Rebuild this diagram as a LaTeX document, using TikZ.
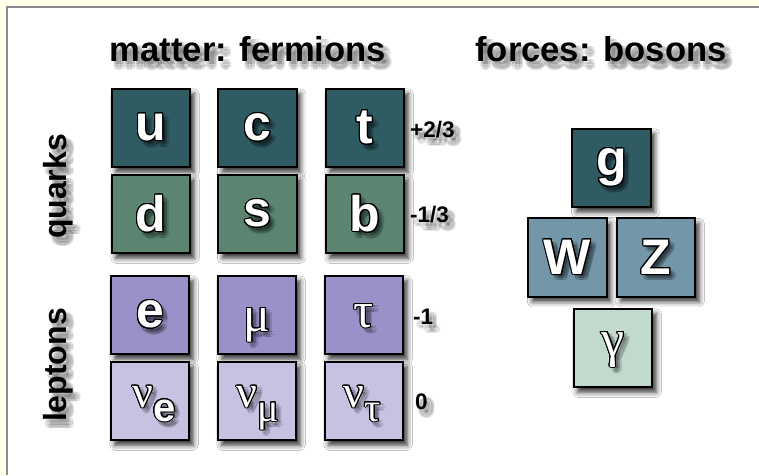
\documentclass[tikz,border=0pt]{standalone}
\usepackage{fontspec}
\setmainfont{Liberation Sans}
\newfontfamily\gk{Liberation Serif}
\usepackage{contour}
\contourlength{1.0pt}
\contournumber{24}
\usetikzlibrary{shadows,shadows.blur,calc}
\definecolor{bgyellow}{HTML}{FFFFEA}
\definecolor{framegray}{HTML}{8A8A8A}
\definecolor{qup}{HTML}{2F5B63}
\definecolor{qdown}{HTML}{5B8570}
\definecolor{lch}{HTML}{9B91C8}
\definecolor{lnu}{HTML}{C9C1E2}
\definecolor{wz}{HTML}{7397A8}
\definecolor{pho}{HTML}{C2D9CD}
\newcommand\sfl[1]{{\fontsize{50}{50}\selectfont\bfseries #1}}
\newcommand\gkl[1]{{\gk\fontsize{50}{50}\selectfont #1}}
\newcommand\nul[1]{{\gk\fontsize{46}{46}\selectfont ν}\raisebox{-14pt}{#1}}
\newcommand\lett[3]{%
  \foreach \ang in {0,60,...,300}{%
    \node[anchor=#1,inner sep=0pt,text=black,opacity=0.14] at ($(#2)+(4,4)+(\ang:2.5)$) {#3};}%
  \node[anchor=#1,inner sep=0pt,text=white] at (#2) {\contour{black}{#3}};%
}
\newcommand\shtext[4]{%
  \foreach \ang in {0,45,...,315}{%
    \node[#1,inner sep=0pt,text=black,opacity=0.09] at ($(#2)+(5,6)+(\ang:3)$) {#3};}%
  \node[#1,inner sep=0pt] (#4) at (#2) {#3};%
}
\begin{document}
\begin{tikzpicture}[x=1pt,y=-1pt,
  pbox/.style={draw=black,line width=1.6pt,minimum size=78.5pt,inner sep=0pt,
    blur shadow={shadow xshift=4pt,shadow yshift=-5pt,shadow blur radius=5pt,shadow opacity=80}},
  title/.style={font=\fontsize{34.6}{40}\selectfont\bfseries},
  side/.style={font=\fontsize{32}{36}\selectfont\bfseries,rotate=90},
  charge/.style={font=\fontsize{22.5}{26}\selectfont\bfseries,anchor=west}]
\useasboundingbox (0,0) rectangle (759,475);
\fill[bgyellow] (0,0) rectangle (759,475);
\fill[white] (7,7) rectangle (759,475);
\draw[framegray,line width=2pt] (7,475) -- (7,7) -- (759,7);

% titles
\shtext{title,anchor=base}{248,61}{matter: fermions}{tmatter}
\shtext{title,anchor=base}{601,61}{forces: bosons}{tforces}
\shtext{side}{58,186.5}{quarks}{lq}
\shtext{side}{58,365}{leptons}{ll}

% quark boxes
\node[pbox,fill=qup] (u) at (151,128) {};
\node[pbox,fill=qup] (c) at (257.5,128) {};
\node[pbox,fill=qup] (t) at (365,128) {};
\node[pbox,fill=qdown] (d) at (151,214) {};
\node[pbox,fill=qdown] (s) at (257.5,214) {};
\node[pbox,fill=qdown] (b) at (365,214) {};
% lepton boxes
\node[pbox,fill=lch] (e) at (150,315) {};
\node[pbox,fill=lch] (mu) at (257,315) {};
\node[pbox,fill=lch] (tau) at (364,315) {};
\node[pbox,fill=lnu] (nue) at (150,401) {};
\node[pbox,fill=lnu] (numu) at (257,401) {};
\node[pbox,fill=lnu] (nutau) at (364,401) {};
% boson boxes
\node[pbox,fill=qup] (g) at (611.5,168) {};
\node[pbox,fill=wz] (W) at (567.5,257.5) {};
\node[pbox,fill=wz] (Z) at (656,257.5) {};
\node[pbox,fill=pho] (gam) at (613,348) {};

% letters
\lett{center}{u}{\sfl{u}}
\lett{center}{c}{\sfl{c}}
\lett{center}{t}{\sfl{t}}
\lett{center}{d}{\sfl{d}}
\lett{center}{s}{\sfl{s}}
\lett{center}{b}{\sfl{b}}
\lett{center}{e}{\sfl{e}}
\coordinate (mub) at ($(mu)+(0,16)$);
\coordinate (taub) at ($(tau)+(0,12)$);
\lett{base}{mub}{\gkl{μ}}
\lett{base}{taub}{\gkl{τ}}
\coordinate (nueb) at ($(nue)+(4,6)$);
\coordinate (numub) at ($(numu)+(1,6)$);
\coordinate (nutaub) at ($(nutau)+(-2,6)$);
\lett{base}{nueb}{\nul{\fontsize{40}{40}\selectfont\bfseries e}}
\lett{base}{numub}{\nul{\gk\fontsize{40}{40}\selectfont μ}}
\lett{base}{nutaub}{\nul{\gk\fontsize{40}{40}\selectfont τ}}
\lett{center}{g}{\sfl{g}}
\lett{center}{W}{\sfl{W}}
\lett{center}{Z}{\sfl{Z}}
\coordinate (gamb) at ($(gam)+(0,8)$);
\lett{base}{gamb}{{\gk\fontsize{52}{52}\selectfont γ}}

% charges
\shtext{charge}{410,129.5}{+2/3}{ch1}
\shtext{charge}{410,214.5}{-1/3}{ch2}
\shtext{charge}{413,317}{-1}{ch3}
\shtext{charge}{415,401.5}{0}{ch4}
\end{tikzpicture}
\end{document}
